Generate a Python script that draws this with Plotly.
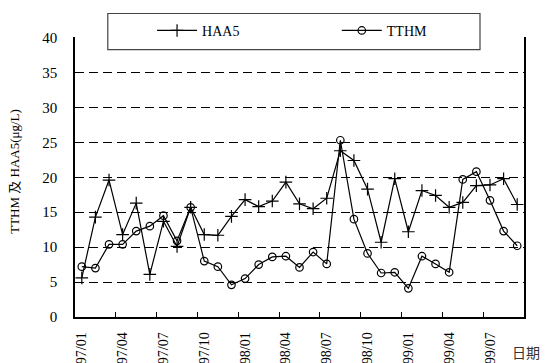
import plotly.graph_objects as go

months = ["97/01", "97/02", "97/03", "97/04", "97/05", "97/06", "97/07", "97/08", "97/09",
          "97/10", "97/11", "97/12", "98/01", "98/02", "98/03", "98/04", "98/05", "98/06",
          "98/07", "98/08", "98/09", "98/10", "98/11", "98/12", "99/01", "99/02", "99/03",
          "99/04", "99/05", "99/06", "99/07", "99/08", "99/09"]
tick_labels = ["97/01", "97/04", "97/07", "97/10", "98/01", "98/04", "98/07",
               "98/10", "99/01", "99/04", "99/07"]
haa5 = [5.6, 14.3, 19.6, 11.8, 16.3, 6.1, 13.7, 10.1, 15.7, 11.8,
        11.7, 14.4, 16.8, 15.8, 16.6, 19.3, 16.2, 15.5, 17.0, 23.8,
        22.4, 18.3, 10.7, 19.8, 12.2, 18.1, 17.4, 15.7, 16.4, 18.8,
        18.9, 19.8, 16.1]
tthm = [7.2, 7.0, 10.4, 10.4, 12.3, 13.0, 14.5, 10.9, 15.7, 8.0,
        7.2, 4.6, 5.5, 7.5, 8.6, 8.7, 7.1, 9.3, 7.6, 25.3,
        14.0, 9.1, 6.3, 6.4, 4.1, 8.7, 7.6, 6.4, 19.7, 20.8,
        16.7, 12.3, 10.2]

serif = "Liberation Serif, Times New Roman, serif"
n = len(months)

fig = go.Figure()
fig.add_trace(go.Scatter(x=months, y=haa5, name="HAA5", mode="lines+markers",
                         legend="legend",
                         line=dict(color="black", width=1.2),
                         marker=dict(symbol="cross-thin", size=9,
                                     line=dict(color="black", width=1.2))))
fig.add_trace(go.Scatter(x=months, y=tthm, name="TTHM", mode="lines+markers",
                         legend="legend2",
                         line=dict(color="black", width=1.2),
                         marker=dict(symbol="circle-open", size=7.5, color="black",
                                     line=dict(color="black", width=1.2))))
# empty trace so the boundary tick axis is drawn
fig.add_trace(go.Scatter(x=[], y=[], xaxis="x2", showlegend=False))

leg = dict(orientation="v", xref="container", yref="container",
           yanchor="middle", y=0.915, xanchor="left",
           itemwidth=40, bgcolor="rgba(0,0,0,0)", borderwidth=0,
           font=dict(family=serif, size=14))

fig.update_layout(
    width=545, height=363,
    margin=dict(l=75, r=21, t=37, b=46, autoexpand=False),
    paper_bgcolor="white", plot_bgcolor="white",
    font=dict(family=serif, size=13, color="black"),
    xaxis=dict(type="category", range=[-0.5, n - 0.5],
               tickvals=tick_labels, ticktext=tick_labels,
               tickangle=-90, ticks="", ticklabelstandoff=8,
               showgrid=False, showline=True, linecolor="black", linewidth=1.5,
               tickfont=dict(family=serif, size=14)),
    xaxis2=dict(overlaying="x", anchor="y", side="bottom", range=[-0.5, n - 0.5],
                tickvals=[i - 0.5 for i in range(0, n + 1, 3)],
                ticks="inside", ticklen=5, tickcolor="black",
                showticklabels=False, showgrid=False, showline=False,
                zeroline=False),
    yaxis=dict(range=[0, 40.08], tickvals=list(range(0, 41, 5)),
               ticks="inside", ticklen=5, tickcolor="black",
               showline=True, linecolor="black", linewidth=1.5, mirror=True,
               showgrid=True, gridcolor="black", gridwidth=1, griddash="9px,5px",
               zeroline=False, ticklabelstandoff=13,
               tickfont=dict(family=serif, size=15)),
    showlegend=True,
    legend=dict(leg, x=0.279),
    legend2=dict(leg, x=0.618),
    shapes=[dict(type="rect", xref="paper", yref="paper",
                 x0=0.073, x1=0.902, y0=0.955, y1=1.084,
                 line=dict(color="#444444", width=1.2), fillcolor="white",
                 layer="above")],
    annotations=[
        dict(text="TTHM 及 HAA5(μg/L)", xref="paper", yref="paper",
             x=-0.135, y=0.52, xanchor="center", yanchor="middle",
             textangle=-90, showarrow=False,
             font=dict(family=serif + ", Noto Sans CJK SC", size=13)),
        dict(text="日期", xref="paper", yref="paper", x=1.004, y=-0.126,
             xanchor="center", yanchor="middle", showarrow=False,
             font=dict(family="Noto Sans CJK SC", size=14, color="#333333")),
    ],
)

fig.write_html("out.html", config={"displayModeBar": False},
               post_script="document.body.style.margin='0';")
